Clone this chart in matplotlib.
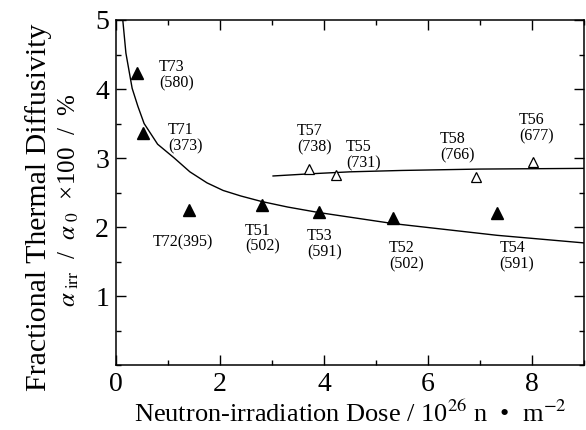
import matplotlib.pyplot as plt
from matplotlib.ticker import MultipleLocator

plt.rcParams['font.family'] = ['Liberation Serif', 'DejaVu Serif']
plt.rcParams['mathtext.fontset'] = 'stix'

# filled triangles
filled_x = [0.40, 0.52, 1.40, 2.81, 3.90, 5.33, 7.33]
filled_y = [4.23, 3.36, 2.25, 2.32, 2.22, 2.13, 2.20]
filled_names = ['T73\n(580)', 'T71\n(373)', 'T72(395)', 'T51\n(502)',
                'T53\n(591)', 'T52\n(502)', 'T54\n(591)']

# open triangles
open_x = [3.71, 4.23, 6.92, 8.02]
open_y = [2.84, 2.75, 2.72, 2.94]
open_names = ['T57\n(738)', 'T55\n(731)', 'T58\n(766)', 'T56\n(677)']

# fitted curves
low_x = [0.13, 0.19, 0.31, 0.42, 0.54, 0.80, 1.12, 1.42, 1.75, 2.06, 2.40,
         2.80, 3.30, 3.90, 5.33, 7.33, 9.00]
low_y = [5.00, 4.52, 4.01, 3.75, 3.50, 3.20, 3.00, 2.80, 2.64, 2.53, 2.45,
         2.37, 2.29, 2.21, 2.05, 1.88, 1.77]
up_x = [3.02, 3.7, 4.5, 5.5, 7.0, 9.0]
up_y = [2.74, 2.77, 2.80, 2.82, 2.84, 2.85]

# label anchor positions (left edge, vertical centre) in data units
filled_pos = [(0.83, 4.20), (1.00, 3.29), (0.71, 1.78), (2.48, 1.83),
              (3.67, 1.75), (5.25, 1.58), (7.37, 1.58)]
open_pos = [(3.48, 3.27), (4.42, 3.04), (6.23, 3.16), (7.75, 3.43)]

fig = plt.figure(figsize=(5.86, 4.30), dpi=100)
ax = fig.add_axes([0.198, 0.151, 0.7986, 0.8025])

ax.plot(low_x, low_y, color='black', lw=1.0)
ax.plot(up_x, up_y, color='black', lw=1.0)
ax.plot(filled_x, filled_y, '^', color='black', ms=8, ls='none')
ax.plot(open_x, open_y, '^', mfc='white', mec='black', mew=0.9, ms=7.5, ls='none')

for name, (tx, ty) in zip(filled_names + open_names, filled_pos + open_pos):
    ax.text(tx, ty, name, ha='left', va='center', fontsize=11.5, linespacing=1.0)

ax.set_xlim(0, 9)
ax.set_ylim(0, 5)
ax.xaxis.set_major_locator(MultipleLocator(2))
ax.xaxis.set_minor_locator(MultipleLocator(1))
ax.yaxis.set_major_locator(MultipleLocator(1))
ax.yaxis.set_minor_locator(MultipleLocator(0.5))
ax.set_yticks([1, 2, 3, 4, 5])
ax.tick_params(which='both', direction='in', top=True, right=True, width=1.0)
ax.tick_params(which='major', length=7, labelsize=20, pad=5)
ax.tick_params(which='minor', length=3.5)
for s in ax.spines.values():
    s.set_linewidth(1.1)

ax.set_xlabel(r'Neutron-irradiation Dose / 10$^{26}$ n  •  m$^{-2}$', fontsize=19, labelpad=3)

fig.text(0.066, 0.518, 'Fractional Thermal Diffusivity', rotation=90,
         ha='center', va='center', fontsize=21.5)
fig.text(0.117, 0.535, r'$\alpha_{\ \mathrm{irr}}$  /  $\alpha_{\ 0}$  ×100  /  %', rotation=90,
         ha='center', va='center', fontsize=18)

fig.savefig('out.png', dpi=100)
